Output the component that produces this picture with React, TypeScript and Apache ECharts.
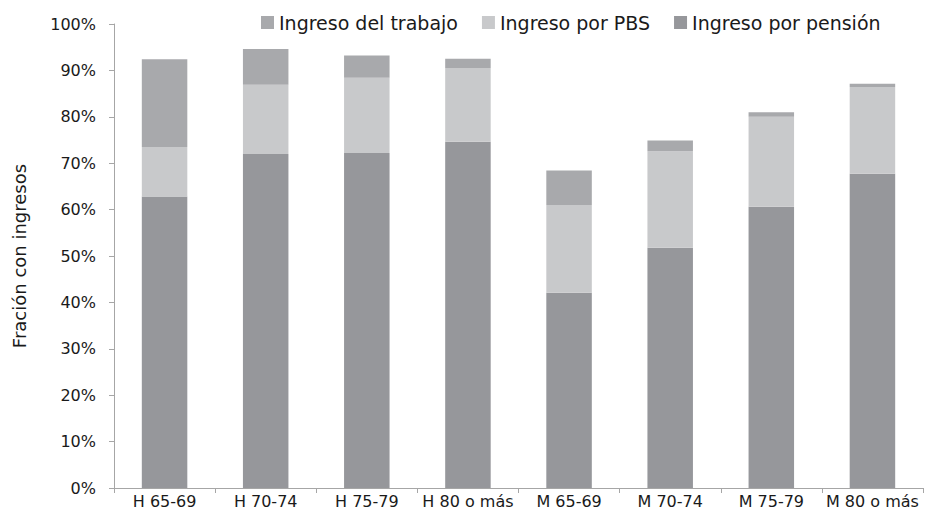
import React, { useEffect, useRef } from "react";
import * as echarts from "echarts";

const categories = ["H 65-69", "H 70-74", "H 75-79", "H 80 o más", "M 65-69", "M 70-74", "M 75-79", "M 80 o más"];
// cumulative tops (%)
const pensionTop = [62.8, 72.0, 72.2, 74.6, 42.1, 51.8, 60.6, 67.7];
const pbsTop = [73.5, 86.9, 88.4, 90.5, 61.0, 72.6, 80.0, 86.4];
const totalTop = [92.4, 94.6, 93.2, 92.5, 68.4, 74.9, 81.0, 87.1];

const pension = pensionTop.map((v) => +v.toFixed(1));
const pbs = pbsTop.map((v, i) => +(v - pensionTop[i]).toFixed(1));
const trabajo = totalTop.map((v, i) => +(v - pbsTop[i]).toFixed(1));

const yTicks = [0, 10, 20, 30, 40, 50, 60, 70, 80, 90, 100];

export default function App() {
  const ref = useRef<HTMLDivElement>(null);
  useEffect(() => {
    document.body.style.margin = "0";
    const chart = echarts.init(ref.current!, null, { renderer: "svg" });
    const font = "DejaVu Sans";
    chart.setOption({
      animation: false,
      textStyle: { fontFamily: font },
      legend: {
        top: 8,
        left: 256,
        itemWidth: 13,
        itemHeight: 13,
        itemGap: 24,
        icon: "rect",
        data: ["Ingreso del trabajo", "Ingreso por PBS", "Ingreso por pensión"],
        textStyle: { fontSize: 19, color: "#1a1a1a", fontFamily: font },
      },
      grid: { left: 114, right: 2, top: 24, bottom: 26, containLabel: false },
      xAxis: {
        type: "category",
        data: categories,
        boundaryGap: true,
        axisLine: { lineStyle: { color: "#a6a6a6" } },
        axisTick: { show: true, length: 5, lineStyle: { color: "#a6a6a6" } },
        axisLabel: { fontSize: 16, color: "#1a1a1a", margin: 5, interval: 0 },
      },
      yAxis: {
        type: "value",
        min: yTicks[0],
        max: yTicks[yTicks.length - 1],
        interval: 10,
        name: "Fración con ingresos",
        nameLocation: "middle",
        nameGap: 86,
        nameTextStyle: { fontSize: 18, color: "#1a1a1a" },
        axisLine: { show: true, lineStyle: { color: "#a6a6a6" } },
        axisTick: { show: true, length: 5, lineStyle: { color: "#a6a6a6" } },
        splitLine: { show: false },
        axisLabel: { fontSize: 16, color: "#1a1a1a", margin: 18, formatter: "{value}%" },
      },
      series: [
        {
          name: "Ingreso por pensión",
          type: "bar",
          stack: "a",
          barWidth: "45%",
          data: pension,
          itemStyle: { color: "#96979b" },
        },
        {
          name: "Ingreso por PBS",
          type: "bar",
          stack: "a",
          data: pbs,
          itemStyle: { color: "#c8c9cb" },
        },
        {
          name: "Ingreso del trabajo",
          type: "bar",
          stack: "a",
          data: trabajo,
          itemStyle: { color: "#a8a9ac" },
        },
      ],
    });
    return () => chart.dispose();
  }, []);
  return <div ref={ref} style={{ width: 925, height: 514 }} />;
}
